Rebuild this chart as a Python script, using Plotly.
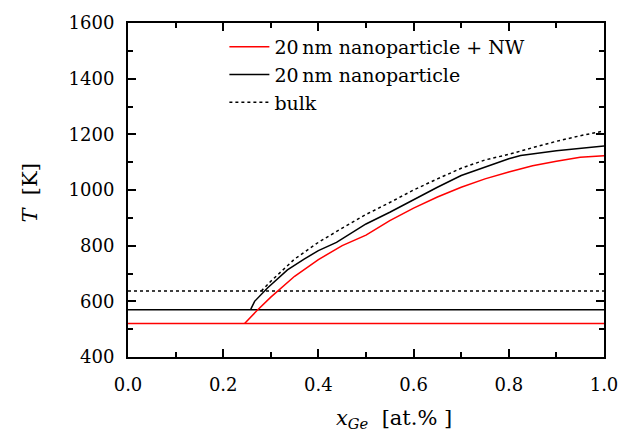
import plotly.graph_objects as go

# horizontal levels (K)
T_np_nw = 520
T_np = 570
T_bulk = 637

# curves
x_red = [0.245, 0.27, 0.30, 0.35, 0.40, 0.45, 0.50, 0.55, 0.60, 0.65, 0.70, 0.75, 0.80, 0.85, 0.90, 0.95, 1.00]
T_red = [520, 565, 615, 690, 750, 800, 838, 890, 935, 975, 1010, 1040, 1065, 1087, 1103, 1118, 1123]

x_blk = [0.258, 0.266, 0.293, 0.335, 0.37, 0.40, 0.438, 0.50, 0.55, 0.60, 0.65, 0.70, 0.75, 0.80, 0.825, 0.90, 1.00]
T_blk = [572, 600, 648, 713, 752, 782, 812, 878, 920, 965, 1010, 1052, 1082, 1112, 1124, 1141, 1158]

x_dot = [0.28, 0.30, 0.35, 0.40, 0.45, 0.50, 0.55, 0.60, 0.65, 0.70, 0.75, 0.80, 0.85, 0.90, 0.95, 1.00]
T_dot = [637, 672, 752, 812, 863, 912, 955, 1000, 1040, 1078, 1108, 1128, 1152, 1175, 1195, 1212]

x_full = [0.0, 1.0]

labels = ["20\u2009nm nanoparticle + NW", "20\u2009nm nanoparticle", "bulk"]

fig = go.Figure()
fig.add_trace(go.Scatter(x=x_full, y=[T_np_nw, T_np_nw], mode="lines",
                         line=dict(color="#ff0000", width=1.5), showlegend=False))
fig.add_trace(go.Scatter(x=x_full, y=[T_np, T_np], mode="lines",
                         line=dict(color="black", width=1.5), showlegend=False))
fig.add_trace(go.Scatter(x=x_full, y=[T_bulk, T_bulk], mode="lines",
                         line=dict(color="black", width=1.5, dash="dot"), showlegend=False))
fig.add_trace(go.Scatter(x=x_red, y=T_red, mode="lines", name=labels[0],
                         line=dict(color="#ff0000", width=1.5)))
fig.add_trace(go.Scatter(x=x_blk, y=T_blk, mode="lines", name=labels[1],
                         line=dict(color="black", width=1.5)))
fig.add_trace(go.Scatter(x=x_dot, y=T_dot, mode="lines", name=labels[2],
                         line=dict(color="black", width=1.5, dash="dot")))

font_family = "DejaVu Serif"
axis_common = dict(showline=True, linecolor="black", linewidth=2, mirror="ticks",
                   ticks="inside", ticklen=8, tickwidth=1.5, tickcolor="black",
                   showgrid=False, zeroline=False,
                   tickfont=dict(family=font_family, size=18, color="black"))

fig.update_xaxes(range=[0, 1], tickvals=[0, 0.2, 0.4, 0.6, 0.8, 1.0],
                 ticktext=["0.0", "0.2", "0.4", "0.6", "0.8", "1.0"],
                 minor=dict(ticks="inside", ticklen=5, tickwidth=1.5, tickcolor="black", dtick=0.1),
                 ticklabelstandoff=10, **axis_common)
fig.update_yaxes(range=[400, 1600], tickvals=[400, 600, 800, 1000, 1200, 1400, 1600],
                 minor=dict(ticks="inside", ticklen=5, tickwidth=1.5, tickcolor="black", dtick=100),
                 ticklabelstandoff=8, **axis_common)

fig.add_annotation(text="<i>x</i><sub><i>Ge</i></sub>  [at.% ]", xref="paper", yref="paper",
                   x=(398 - 128) / 484, y=-(420 - 357) / 340, xanchor="center", yanchor="middle",
                   showarrow=False, font=dict(family=font_family, size=21, color="black"))
fig.add_annotation(text="<i>T</i>  [K]", xref="paper", yref="paper",
                   x=-(128 - 28) / 484, y=(357 - 190) / 340, xanchor="center", yanchor="middle",
                   textangle=-90,
                   showarrow=False, font=dict(family=font_family, size=21, color="black"))

fig.update_layout(
    width=630, height=439,
    margin=dict(l=128, r=18, t=17, b=82),
    paper_bgcolor="white", plot_bgcolor="white",
    legend=dict(x=(226 - 128) / 484, y=0.985, xanchor="left", yanchor="top",
                bgcolor="rgba(0,0,0,0)", font=dict(family=font_family, size=19, color="black"),
                tracegroupgap=0, itemwidth=40),
)

fig.write_html("out.html")
